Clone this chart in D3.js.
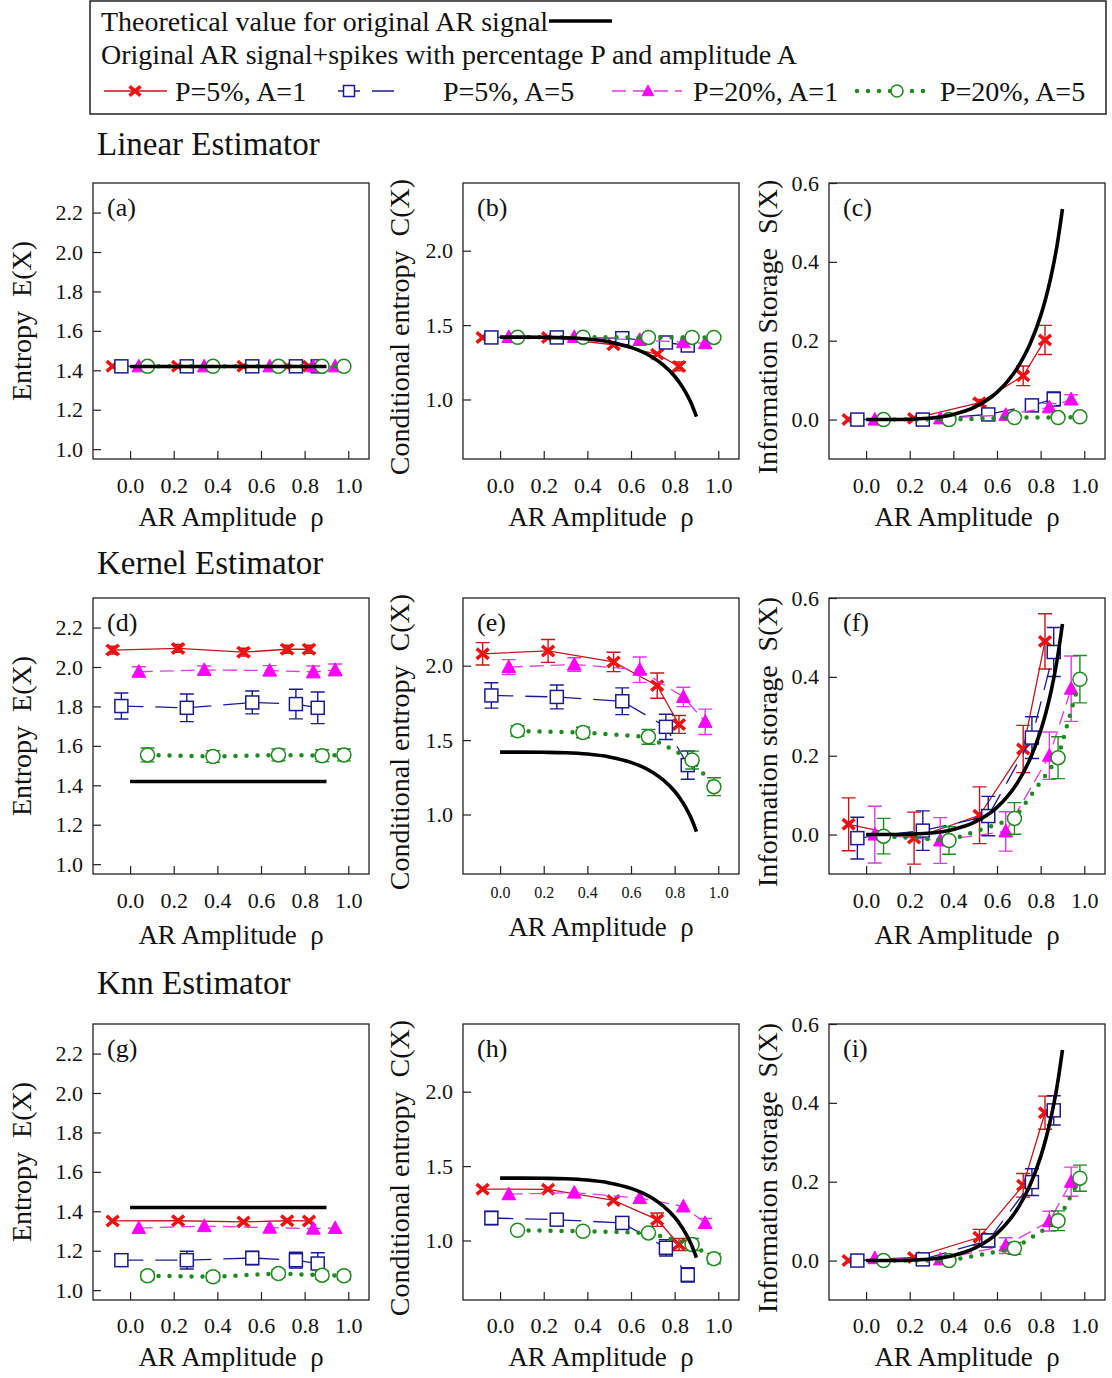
<!DOCTYPE html>
<html>
<head>
<meta charset="utf-8">
<script src="https://cdn.jsdelivr.net/npm/d3@7"></script>
<style>
  body { margin: 0; background: #fff; }
  svg text { font-family: "Liberation Serif", "Times New Roman", serif; fill: #111; white-space: pre; }
</style>
</head>
<body>
<svg id="fig" width="1112" height="1378"></svg>
<script>
// ---------- data ----------
// AR amplitude ρ at which each spike configuration is plotted (dodged around 0, 0.3, 0.6, 0.8, 0.9)
const rhoP5A1  = [-0.08, 0.22, 0.52, 0.72, 0.82];
const rhoP5A5  = [-0.04, 0.26, 0.56, 0.76, 0.86];
const rhoP20A1 = [0.04, 0.34, 0.64, 0.84, 0.94];
const rhoP20A5 = [0.08, 0.38, 0.68, 0.88, 0.98];

const seriesNames = ["P=5%, A=1", "P=5%, A=5", "P=20%, A=1", "P=20%, A=5"];

// theoretical values for the original AR signal
const theoryRhoE = [0, 0.9];
const theoryE    = [1.419, 1.419];
const theoryRho  = [0, 0.1, 0.2, 0.3, 0.4, 0.5, 0.6, 0.65, 0.7, 0.75, 0.8, 0.825, 0.85, 0.875, 0.9];
const theoryC    = [1.419, 1.419, 1.418, 1.415, 1.406, 1.387, 1.350, 1.321, 1.282, 1.229, 1.156, 1.108, 1.050, 0.978, 0.885];
const theoryS    = [0, 0, 0.001, 0.004, 0.013, 0.032, 0.069, 0.098, 0.137, 0.190, 0.263, 0.311, 0.369, 0.441, 0.534];

// rows: P=5%,A=1 / P=5%,A=5 / P=20%,A=1 / P=20%,A=5
const linearE = [
  [1.42, 1.42, 1.42, 1.42, 1.42],
  [1.42, 1.42, 1.42, 1.42, 1.42],
  [1.42, 1.42, 1.42, 1.42, 1.42],
  [1.42, 1.42, 1.42, 1.42, 1.42]];
const linearEErr = [
  [0, 0, 0, 0, 0], [0, 0, 0, 0, 0], [0, 0, 0, 0, 0], [0, 0, 0, 0, 0]];
const linearC = [
  [1.417, 1.417, 1.368, 1.305, 1.222],
  [1.417, 1.417, 1.412, 1.383, 1.363],
  [1.420, 1.420, 1.400, 1.385, 1.378],
  [1.418, 1.418, 1.417, 1.417, 1.417]];
const linearCErr = [
  [0.005, 0.005, 0.01, 0.02, 0.03],
  [0.004, 0.004, 0.005, 0.008, 0.01],
  [0.004, 0.004, 0.005, 0.006, 0.008],
  [0.004, 0.004, 0.004, 0.005, 0.006]];
const linearS = [
  [0.000, 0.003, 0.043, 0.111, 0.202],
  [0.000, 0.000, 0.013, 0.036, 0.052],
  [0.000, 0.003, 0.012, 0.031, 0.051],
  [0.000, 0.000, 0.005, 0.005, 0.007]];
const linearSErr = [
  [0.004, 0.004, 0.008, 0.025, 0.037],
  [0.003, 0.003, 0.006, 0.010, 0.018],
  [0.003, 0.003, 0.006, 0.010, 0.012],
  [0.003, 0.003, 0.004, 0.005, 0.006]];

const kernelE = [
  [2.086, 2.094, 2.075, 2.090, 2.090],
  [1.802, 1.793, 1.820, 1.812, 1.793],
  [1.976, 1.985, 1.982, 1.975, 1.985],
  [1.554, 1.546, 1.554, 1.550, 1.554]];
const kernelEErr = [
  [0.02, 0.02, 0.02, 0.02, 0.02],
  [0.066, 0.07, 0.058, 0.075, 0.08],
  [0.025, 0.02, 0.025, 0.03, 0.03],
  [0.035, 0.03, 0.03, 0.03, 0.03]];
const kernelC = [
  [2.080, 2.099, 2.025, 1.866, 1.605],
  [1.800, 1.790, 1.761, 1.589, 1.332],
  [1.991, 2.008, 1.973, 1.790, 1.623],
  [1.562, 1.551, 1.522, 1.366, 1.187]];
const kernelCErr = [
  [0.075, 0.077, 0.065, 0.085, 0.06],
  [0.085, 0.08, 0.09, 0.085, 0.095],
  [0.05, 0.045, 0.085, 0.065, 0.085],
  [0.035, 0.035, 0.05, 0.06, 0.06]];
const kernelS = [
  [0.026, -0.009, 0.049, 0.217, 0.490],
  [-0.009, 0.010, 0.047, 0.246, 0.463],
  [0.000, -0.015, 0.008, 0.200, 0.370],
  [-0.004, -0.015, 0.041, 0.195, 0.394]];
const kernelSErr = [
  [0.067, 0.066, 0.072, 0.06, 0.07],
  [0.053, 0.05, 0.05, 0.053, 0.062],
  [0.072, 0.058, 0.05, 0.06, 0.083],
  [0.045, 0.035, 0.04, 0.053, 0.06]];

const knnE = [
  [1.351, 1.352, 1.346, 1.352, 1.351],
  [1.152, 1.152, 1.163, 1.152, 1.135],
  [1.315, 1.325, 1.317, 1.312, 1.315],
  [1.073, 1.068, 1.084, 1.076, 1.073]];
const knnEErr = [
  [0.012, 0.012, 0.012, 0.012, 0.012],
  [0.03, 0.045, 0.035, 0.04, 0.055],
  [0.012, 0.012, 0.012, 0.015, 0.015],
  [0.02, 0.02, 0.02, 0.02, 0.02]];
const knnC = [
  [1.345, 1.344, 1.269, 1.140, 0.973],
  [1.151, 1.140, 1.118, 0.951, 0.769],
  [1.311, 1.322, 1.285, 1.229, 1.118],
  [1.069, 1.062, 1.051, 0.973, 0.878]];
const knnCErr = [
  [0.015, 0.015, 0.02, 0.045, 0.04],
  [0.045, 0.03, 0.04, 0.055, 0.048],
  [0.015, 0.015, 0.015, 0.02, 0.03],
  [0.02, 0.02, 0.02, 0.04, 0.035]];
const knnS = [
  [0.000, 0.008, 0.059, 0.191, 0.375],
  [0.000, 0.003, 0.051, 0.199, 0.381],
  [0.006, 0.003, 0.038, 0.100, 0.200],
  [0.000, 0.000, 0.031, 0.101, 0.209]];
const knnSErr = [
  [0.004, 0.006, 0.02, 0.03, 0.042],
  [0.004, 0.005, 0.017, 0.034, 0.037],
  [0.004, 0.004, 0.02, 0.025, 0.037],
  [0.004, 0.004, 0.015, 0.025, 0.033]];

const xTicks = [0, 0.2, 0.4, 0.6, 0.8, 1.0];
const eTicks = [1.0, 1.2, 1.4, 1.6, 1.8, 2.0, 2.2];
const cTicks = [1.0, 1.5, 2.0];
const sTicks = [0.0, 0.2, 0.4, 0.6];

// ---------- styles ----------
const seriesRho = [rhoP5A1, rhoP5A5, rhoP20A1, rhoP20A5];
const styles = [
  { line: "#c3161c", mark: "#ee1111", dash: null,    width: 1.3, cap: "butt",  shape: "x" },
  { line: "#1b1b8f", mark: "#1b1b8f", dash: "22 12", width: 1.3, cap: "butt",  shape: "square" },
  { line: "#e03be0", mark: "#ff00ff", dash: "14 7",  width: 1.3, cap: "butt",  shape: "triangle" },
  { line: "#1f8a1f", mark: "#1f8a1f", dash: "0 11",  width: 4.5, cap: "round", shape: "circle" }
];

const svg = d3.select("#fig");
const W = 276, H = 276;
const colX = [93, 463, 829];
const rowY = [183, 598, 1024];
const fmt = d3.format(".1f");

function drawMarker(sel, shape, color, s) {
  if (shape === "x") {
    sel.append("path")
      .attr("d", `M${-s},${-s * 0.85}L${s},${s * 0.85}M${-s},${s * 0.85}L${s},${-s * 0.85}`)
      .attr("stroke", color).attr("stroke-width", 3.6).attr("fill", "none");
  } else if (shape === "square") {
    sel.append("rect").attr("x", -s).attr("y", -s).attr("width", 2 * s).attr("height", 2 * s)
      .attr("fill", "#fff").attr("stroke", color).attr("stroke-width", 1.5);
  } else if (shape === "triangle") {
    sel.append("path")
      .attr("d", `M0,${-s * 1.1}L${s * 1.05},${s * 0.85}L${-s * 1.05},${s * 0.85}Z`)
      .attr("fill", color).attr("stroke", color).attr("stroke-width", 1);
  } else {
    sel.append("circle").attr("r", s).attr("fill", "#fff")
      .attr("stroke", color).attr("stroke-width", 1.5);
  }
}

const kinds = {
  E: { domain: [0.95, 2.35], ticks: eTicks, theoryX: theoryRhoE, theoryY: theoryE, title: "Entropy  E(X)" },
  C: { domain: [0.6, 2.455], ticks: cTicks, theoryX: theoryRho, theoryY: theoryC, title: "Conditional entropy  C(X)" },
  S: { domain: [-0.1, 0.6], ticks: sTicks, theoryX: theoryRho, theoryY: theoryS, title: "Information storage  S(X)" }
};

const panels = [
  { label: "(a)", col: 0, row: 0, kind: "E", vals: linearE, errs: linearEErr },
  { label: "(b)", col: 1, row: 0, kind: "C", vals: linearC, errs: linearCErr },
  { label: "(c)", col: 2, row: 0, kind: "S", vals: linearS, errs: linearSErr, title: "Information Storage  S(X)" },
  { label: "(d)", col: 0, row: 1, kind: "E", vals: kernelE, errs: kernelEErr },
  { label: "(e)", col: 1, row: 1, kind: "C", vals: kernelC, errs: kernelCErr, smallTicks: true },
  { label: "(f)", col: 2, row: 1, kind: "S", vals: kernelS, errs: kernelSErr },
  { label: "(g)", col: 0, row: 2, kind: "E", vals: knnE, errs: knnEErr },
  { label: "(h)", col: 1, row: 2, kind: "C", vals: knnC, errs: knnCErr },
  { label: "(i)", col: 2, row: 2, kind: "S", vals: knnS, errs: knnSErr }
];

const yTitleOffset = [71, 63, 61];
const xTitleOffset = [[58, 58, 58], [61, 53, 61], [57, 57, 57]];

panels.forEach(p => {
  const k = kinds[p.kind];
  const g = svg.append("g").attr("transform", `translate(${colX[p.col]},${rowY[p.row]})`);
  const x = d3.scaleLinear().domain([-0.17, 1.095]).range([0, W]);
  const y = d3.scaleLinear().domain(k.domain).range([H, 0]);

  // axes with inward ticks
  const xFs = p.smallTicks ? 16 : 22;
  const xa = g.append("g").attr("transform", `translate(0,${H})`)
    .call(d3.axisBottom(x).tickValues(xTicks).tickFormat(fmt).tickSizeInner(-8).tickSizeOuter(0)
      .tickPadding(p.smallTicks ? 13 : (p.row === 2 ? 17 : 18)));
  xa.select(".domain").remove();
  xa.selectAll("text").attr("font-size", xFs).attr("fill", "#111");
  xa.selectAll("line").attr("stroke", "#222").attr("stroke-width", 1.2);

  const ya = g.append("g")
    .call(d3.axisLeft(y).tickValues(k.ticks).tickFormat(fmt).tickSizeInner(-8).tickSizeOuter(0).tickPadding(10));
  ya.select(".domain").remove();
  ya.selectAll("text").attr("font-size", 22).attr("fill", "#111");
  ya.selectAll("line").attr("stroke", "#222").attr("stroke-width", 1.2);

  // series: connecting line, error bars, markers
  p.vals.forEach((vals, si) => {
    const st = styles[si];
    const pts = vals.map((v, i) => ({ x: seriesRho[si][i], y: v, e: p.errs[si][i] }));
    const sg = g.append("g");
    const line = d3.line().x(d => x(d.x)).y(d => y(d.y));
    sg.append("path").attr("d", line(pts)).attr("fill", "none")
      .attr("stroke", st.line).attr("stroke-width", st.width)
      .attr("stroke-linecap", st.cap)
      .attr("stroke-dasharray", st.dash);
    pts.filter(d => d.e > 0 && (y(d.y - d.e) - y(d.y + d.e)) > 6).forEach(d => {
      const cx = x(d.x), y1 = y(d.y + d.e), y0 = y(d.y - d.e);
      sg.append("path")
        .attr("d", `M${cx},${y1}L${cx},${y0}M${cx - 7},${y1}L${cx + 7},${y1}M${cx - 7},${y0}L${cx + 7},${y0}`)
        .attr("stroke", st.line).attr("stroke-width", 1.4).attr("fill", "none");
    });
    pts.forEach(d => {
      const m = sg.append("g").attr("transform", `translate(${x(d.x)},${y(d.y)})`);
      drawMarker(m, st.shape, st.mark, st.shape === "x" ? 6 : (st.shape === "circle" ? 7 : 6.5));
    });
  });

  // theoretical curve
  const tpts = k.theoryX.map((r, i) => [r, k.theoryY[i]]);
  g.append("path")
    .attr("d", d3.line().x(d => x(d[0])).y(d => y(d[1])).curve(d3.curveMonotoneX)(tpts))
    .attr("fill", "none").attr("stroke", "#000").attr("stroke-width", 3.6);

  // frame
  g.append("rect").attr("width", W).attr("height", H).attr("fill", "none")
    .attr("stroke", "#222").attr("stroke-width", 1.3);

  // panel letter
  g.append("text").attr("x", 14).attr("y", 33).attr("font-size", 26).text(p.label);

  // axis titles
  g.append("text").attr("x", W / 2).attr("y", H + xTitleOffset[p.row][p.col] + 9)
    .attr("text-anchor", "middle").attr("font-size", 27).text("AR Amplitude  ρ");
  const tx = -yTitleOffset[p.col] + 9, ty = H / 2 + (p.col === 0 ? 0 : 6);
  g.append("text").attr("transform", `translate(${tx},${ty}) rotate(-90)`)
    .attr("text-anchor", "middle").attr("font-size", 28).text(p.title || k.title);
});

// estimator headings
[["Linear Estimator", 155], ["Kernel Estimator", 574], ["Knn Estimator", 994]].forEach(([t, yb]) => {
  svg.append("text").attr("x", 97).attr("y", yb).attr("font-size", 33).text(t);
});

// ---------- legend ----------
const lg = svg.append("g");
lg.append("rect").attr("x", 90).attr("y", 1).attr("width", 1016).attr("height", 113)
  .attr("fill", "none").attr("stroke", "#222").attr("stroke-width", 1.5);
lg.append("text").attr("x", 101).attr("y", 31).attr("font-size", 28).text("Theoretical value for original AR signal");
lg.append("line").attr("x1", 549).attr("x2", 612).attr("y1", 21).attr("y2", 21)
  .attr("stroke", "#000").attr("stroke-width", 3.6);
lg.append("text").attr("x", 101).attr("y", 64).attr("font-size", 28)
  .text("Original AR signal+spikes with percentage P and amplitude A");

const legendItems = [
  { x1: 104, x2: 167, mx: 135, tx: 175 },
  { x1: 338, x2: 400, mx: 349, tx: 443 },
  { x1: 612, x2: 682, mx: 648, tx: 693 },
  { x1: 857, x2: 933, mx: 897, tx: 940 }
];
legendItems.forEach((li, si) => {
  const st = styles[si];
  lg.append("line").attr("x1", li.x1).attr("x2", li.x2).attr("y1", 91).attr("y2", 91)
    .attr("stroke", st.line).attr("stroke-width", st.width)
    .attr("stroke-linecap", st.cap).attr("stroke-dasharray", st.dash);
  const m = lg.append("g").attr("transform", `translate(${li.mx},91)`);
  drawMarker(m, st.shape, st.mark, st.shape === "circle" ? 6 : 5.5);
  lg.append("text").attr("x", li.tx).attr("y", 101).attr("font-size", 28).text(seriesNames[si]);
});
</script>
</body>
</html>
